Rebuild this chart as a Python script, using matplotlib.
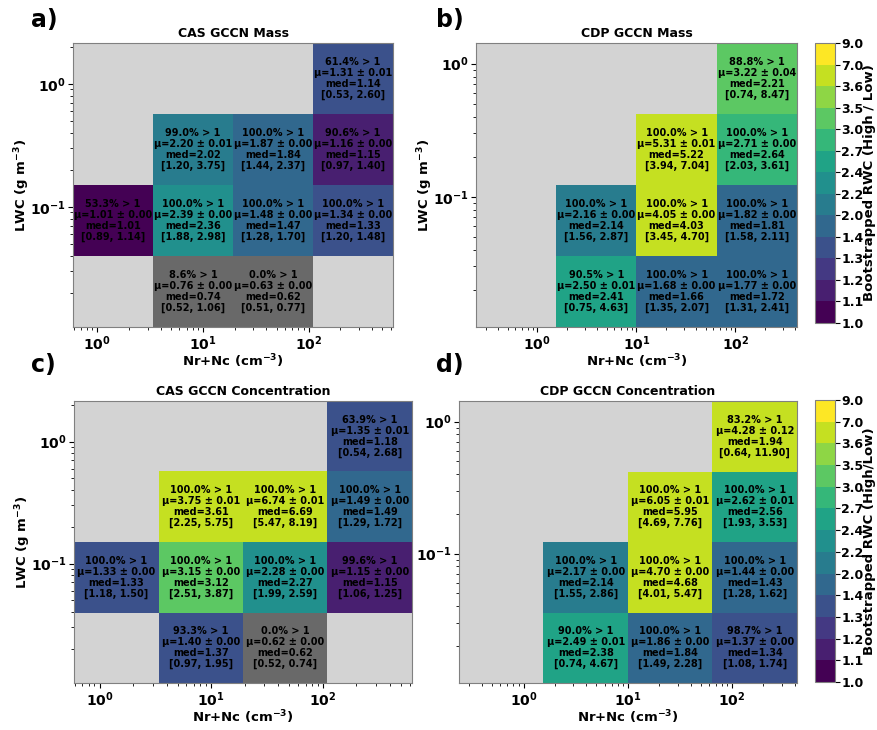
import numpy as np
import matplotlib
matplotlib.use('Agg')
import matplotlib.pyplot as plt
from matplotlib.colors import BoundaryNorm

plt.rcParams['mathtext.default'] = 'bf'
plt.rcParams['font.weight'] = 'bold'

# colour boundaries of the bootstrapped RWC ratio
bounds = [1.0, 1.1, 1.2, 1.3, 1.41, 2.0, 2.21, 2.4, 2.7, 3.0, 3.5, 3.6, 7.0, 9.0]

# bin edges (Nr+Nc in cm-3, LWC in g m-3)
cas_x_edges = np.logspace(np.log10(0.59), np.log10(630), 5)
cas_y_edges = np.logspace(np.log10(0.0105), np.log10(2.15), 5)
cdp_x_edges = np.logspace(np.log10(0.24), np.log10(420), 5)
cdp_y_edges = np.logspace(np.log10(0.0105), np.log10(1.43), 5)

n = np.nan
# rows listed from top LWC bin to bottom, columns from low to high Nr+Nc
# a) CAS GCCN Mass
a_pct = [[n, n, n, 61.4], [n, 99.0, 100.0, 90.6], [53.3, 100.0, 100.0, 100.0], [n, 8.6, 0.0, n]]
a_mean = [[n, n, n, 1.31], [n, 2.20, 1.87, 1.16], [1.01, 2.39, 1.48, 1.34], [n, 0.76, 0.63, n]]
a_err = [[n, n, n, 0.01], [n, 0.01, 0.00, 0.00], [0.00, 0.00, 0.00, 0.00], [n, 0.00, 0.00, n]]
a_med = [[n, n, n, 1.14], [n, 2.02, 1.84, 1.15], [1.01, 2.36, 1.47, 1.33], [n, 0.74, 0.62, n]]
a_lo = [[n, n, n, 0.53], [n, 1.20, 1.44, 0.97], [0.89, 1.88, 1.28, 1.20], [n, 0.52, 0.51, n]]
a_hi = [[n, n, n, 2.60], [n, 3.75, 2.37, 1.40], [1.14, 2.98, 1.70, 1.48], [n, 1.06, 0.77, n]]

# b) CDP GCCN Mass
b_pct = [[n, n, n, 88.8], [n, n, 100.0, 100.0], [n, 100.0, 100.0, 100.0], [n, 90.5, 100.0, 100.0]]
b_mean = [[n, n, n, 3.22], [n, n, 5.31, 2.71], [n, 2.16, 4.05, 1.82], [n, 2.50, 1.68, 1.77]]
b_err = [[n, n, n, 0.04], [n, n, 0.01, 0.00], [n, 0.00, 0.00, 0.00], [n, 0.01, 0.00, 0.00]]
b_med = [[n, n, n, 2.21], [n, n, 5.22, 2.64], [n, 2.14, 4.03, 1.81], [n, 2.41, 1.66, 1.72]]
b_lo = [[n, n, n, 0.74], [n, n, 3.94, 2.03], [n, 1.56, 3.45, 1.58], [n, 0.75, 1.35, 1.31]]
b_hi = [[n, n, n, 8.47], [n, n, 7.04, 3.61], [n, 2.87, 4.70, 2.11], [n, 4.63, 2.07, 2.41]]

# c) CAS GCCN Concentration
c_pct = [[n, n, n, 63.9], [n, 100.0, 100.0, 100.0], [100.0, 100.0, 100.0, 99.6], [n, 93.3, 0.0, n]]
c_mean = [[n, n, n, 1.35], [n, 3.75, 6.74, 1.49], [1.33, 3.15, 2.28, 1.15], [n, 1.40, 0.62, n]]
c_err = [[n, n, n, 0.01], [n, 0.01, 0.01, 0.00], [0.00, 0.00, 0.00, 0.00], [n, 0.00, 0.00, n]]
c_med = [[n, n, n, 1.18], [n, 3.61, 6.69, 1.49], [1.33, 3.12, 2.27, 1.15], [n, 1.37, 0.62, n]]
c_lo = [[n, n, n, 0.54], [n, 2.25, 5.47, 1.29], [1.18, 2.51, 1.99, 1.06], [n, 0.97, 0.52, n]]
c_hi = [[n, n, n, 2.68], [n, 5.75, 8.19, 1.72], [1.50, 3.87, 2.59, 1.25], [n, 1.95, 0.74, n]]

# d) CDP GCCN Concentration
d_pct = [[n, n, n, 83.2], [n, n, 100.0, 100.0], [n, 100.0, 100.0, 100.0], [n, 90.0, 100.0, 98.7]]
d_mean = [[n, n, n, 4.28], [n, n, 6.05, 2.62], [n, 2.17, 4.70, 1.44], [n, 2.49, 1.86, 1.37]]
d_err = [[n, n, n, 0.12], [n, n, 0.01, 0.01], [n, 0.00, 0.00, 0.00], [n, 0.01, 0.00, 0.00]]
d_med = [[n, n, n, 1.94], [n, n, 5.95, 2.56], [n, 2.14, 4.68, 1.43], [n, 2.38, 1.84, 1.34]]
d_lo = [[n, n, n, 0.64], [n, n, 4.69, 1.93], [n, 1.55, 4.01, 1.28], [n, 0.74, 1.49, 1.08]]
d_hi = [[n, n, n, 11.90], [n, n, 7.76, 3.53], [n, 2.86, 5.47, 1.62], [n, 4.67, 2.28, 1.74]]

W, H = 878, 730


def px_axes(fig, left, top, right, bottom):
    return fig.add_axes([left / W, 1 - bottom / H, (right - left) / W, (bottom - top) / H])


def draw_panel(ax, xe, ye, pct, mean, err, med, lo, hi, title, ylabel=True):
    mean = np.flipud(np.array(mean))
    pct, err, med = np.flipud(np.array(pct)), np.flipud(np.array(err)), np.flipud(np.array(med))
    lo, hi = np.flipud(np.array(lo)), np.flipud(np.array(hi))
    cmap = plt.get_cmap('viridis').with_extremes(under='dimgray')
    norm = BoundaryNorm(bounds, 256)
    mesh = ax.pcolormesh(xe, ye, np.ma.masked_invalid(mean), cmap=cmap, norm=norm)
    ax.set_xscale('log')
    ax.set_yscale('log')
    ax.set_xlim(xe[0], xe[-1])
    ax.set_ylim(ye[0], ye[-1])
    ax.set_facecolor('lightgray')
    for i in range(4):
        for j in range(4):
            if np.isnan(mean[i, j]):
                continue
            xc = np.sqrt(xe[j] * xe[j + 1])
            yc = np.sqrt(ye[i] * ye[i + 1])
            s = (f'{pct[i, j]:.1f}% > 1\n\u03bc={mean[i, j]:.2f} \u00b1 {err[i, j]:.2f}\n'
                 f'med={med[i, j]:.2f}\n[{lo[i, j]:.2f}, {hi[i, j]:.2f}]')
            ax.text(xc, yc, s, ha='center', va='center', fontsize=7, fontweight='bold',
                    color='black', linespacing=1.12)
    ax.set_title(title, fontsize=9, fontweight='bold', pad=4)
    ax.set_xlabel('Nr+Nc (cm$^{-3}$)', fontsize=9.5, fontweight='bold', labelpad=0)
    if ylabel:
        ax.set_ylabel('LWC (g m$^{-3}$)', fontsize=9.5, fontweight='bold', labelpad=-1)
    ax.tick_params(labelsize=10, colors='black', pad=1.5)
    for sp in ax.spines.values():
        sp.set_color('gray')
    return mesh


def draw_cbar(fig, mesh, cax, label):
    cb = fig.colorbar(mesh, cax=cax, ticks=bounds)
    cb.ax.set_yticklabels([f'{b:.1f}' for b in bounds], fontsize=9, fontweight='bold')
    cb.ax.tick_params(pad=1)
    cb.set_label(label, fontsize=9.5, fontweight='bold', labelpad=0)
    cb.outline.set_edgecolor('gray')


fig = plt.figure(figsize=(W / 100, H / 100), dpi=100)

ax_a = px_axes(fig, 73, 43, 393, 327)
ax_b = px_axes(fig, 476, 43, 797, 327)
ax_c = px_axes(fig, 74, 401, 412, 683)
ax_d = px_axes(fig, 459, 401, 797, 683)

draw_panel(ax_a, cas_x_edges, cas_y_edges, a_pct, a_mean, a_err, a_med, a_lo, a_hi, 'CAS GCCN Mass')
mb = draw_panel(ax_b, cdp_x_edges, cdp_y_edges, b_pct, b_mean, b_err, b_med, b_lo, b_hi, 'CDP GCCN Mass')
draw_panel(ax_c, cas_x_edges, cas_y_edges, c_pct, c_mean, c_err, c_med, c_lo, c_hi, 'CAS GCCN Concentration')
md = draw_panel(ax_d, cdp_x_edges, cdp_y_edges, d_pct, d_mean, d_err, d_med, d_lo, d_hi,
                'CDP GCCN Concentration', ylabel=False)

draw_cbar(fig, mb, px_axes(fig, 815, 43, 835, 323), 'Bootstrapped RWC (High / Low)')
draw_cbar(fig, md, px_axes(fig, 815, 400, 835, 682), 'Bootstrapped RWC (High/Low)')

for lbl, x, y in [('a)', 31, 27), ('b)', 436, 27), ('c)', 31, 372), ('d)', 436, 372)]:
    fig.text(x / W, 1 - y / H, lbl, fontsize=17, fontweight='bold', va='baseline')

fig.savefig('out.png', dpi=100)
